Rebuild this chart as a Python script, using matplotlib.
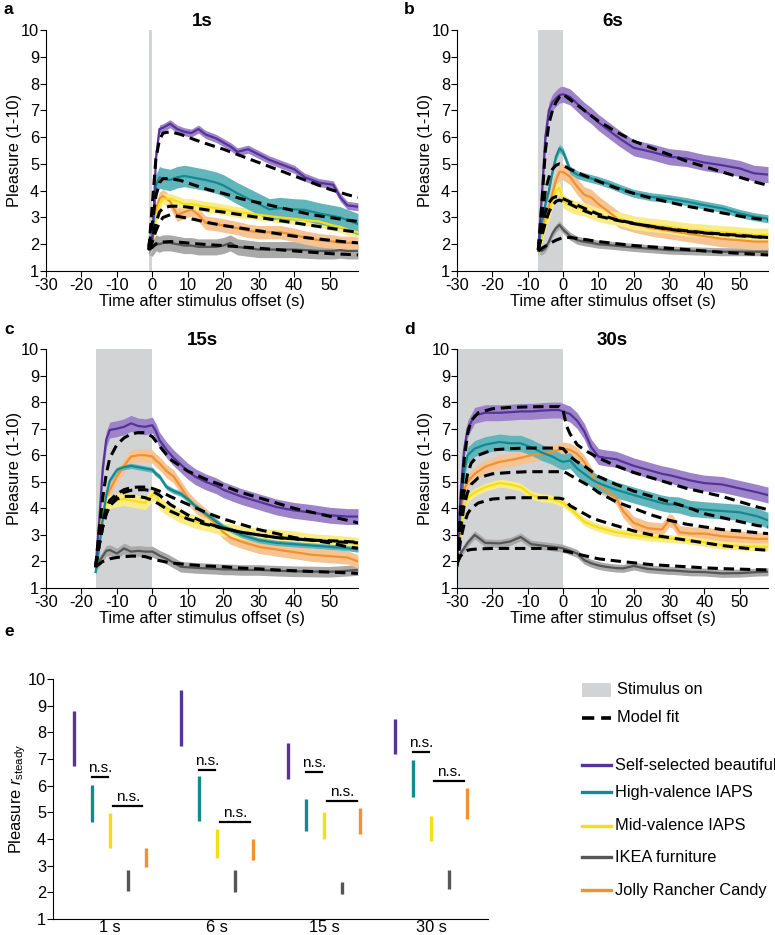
import numpy as np
import matplotlib
matplotlib.use('Agg')
import matplotlib.pyplot as plt
from matplotlib.patches import Rectangle

plt.rcParams['font.family'] = ['Liberation Sans', 'DejaVu Sans']
plt.rcParams['mathtext.fontset'] = 'custom'
plt.rcParams['mathtext.rm'] = 'Liberation Sans'
plt.rcParams['mathtext.it'] = 'Liberation Sans:italic'
plt.rcParams['axes.unicode_minus'] = False

# ---------------- categories / styles ----------------
CATEGORIES = ['Self-selected beautiful', 'High-valence IAPS', 'Mid-valence IAPS',
              'IKEA furniture', 'Jolly Rancher Candy']
LINE_COLORS = ['#563399', '#138a91', '#f5df12', '#555555', '#f0922e']
BAND_COLORS = ['#9d84ca', '#62b5ba', '#f9ec86', '#a9a9a9', '#f6c393']

PANEL_TITLES = ['1s', '6s', '15s', '30s']
PANEL_LETTERS = ['a', 'b', 'c', 'd']
STIM_START = [-1, -7, -16, -30]
X_TICKS = [-30, -20, -10, 0, 10, 20, 30, 40, 50]
Y_TICKS = [1, 2, 3, 4, 5, 6, 7, 8, 9, 10]

# ---------------- panel a (1 s) ----------------
A_T = [-1, 0, 1, 2, 3, 5, 7, 9, 11, 13, 15, 18, 20, 22, 24, 27, 30, 33, 36, 40, 43, 47, 51, 53, 55, 58]
A_PURPLE = [1.8, 2.0, 5.2, 6.3, 6.35, 6.5, 6.3, 6.2, 6.15, 6.3, 6.1, 5.95, 5.8, 5.65, 5.45, 5.55, 5.35, 5.15, 5.0, 4.8, 4.5, 4.3, 4.22, 3.75, 3.45, 3.4]
A_TEAL = [2.0, 2.3, 4.2, 4.5, 4.45, 4.4, 4.5, 4.55, 4.5, 4.45, 4.4, 4.3, 4.2, 4.05, 3.9, 3.7, 3.5, 3.3, 3.35, 3.3, 3.28, 3.15, 3.05, 3.0, 2.9, 2.75]
A_YELLOW = [1.8, 2.0, 3.0, 3.5, 3.7, 3.7, 3.6, 3.5, 3.5, 3.45, 3.4, 3.35, 3.3, 3.25, 3.2, 3.15, 3.1, 3.05, 3.0, 2.95, 2.9, 2.85, 2.7, 2.65, 2.55, 2.45]
A_GRAY = [1.9, 1.85, 2.05, 2.0, 2.05, 2.05, 2.0, 1.95, 1.95, 1.9, 1.9, 1.9, 1.95, 2.05, 1.9, 1.85, 1.8, 1.8, 1.8, 1.8, 1.78, 1.75, 1.75, 1.78, 1.75, 1.75]
A_ORANGE = [1.9, 2.3, 3.3, 3.7, 3.8, 3.6, 3.1, 3.2, 3.3, 3.1, 2.8, 2.75, 2.7, 2.65, 2.6, 2.5, 2.45, 2.45, 2.45, 2.35, 2.25, 2.15, 2.1, 2.05, 2.05, 2.05]
A_SEM = [0.15, 0.4, 0.2, 0.3, 0.25]
A_MT = [-1, 0, 1, 2, 3, 5, 8, 12, 16, 20, 25, 30, 35, 40, 45, 50, 55, 58]
A_FIT_PURPLE = [1.8, 3.5, 5.2, 5.9, 6.15, 6.2, 6.1, 5.9, 5.72, 5.55, 5.3, 5.05, 4.8, 4.55, 4.3, 4.05, 3.85, 3.75]
A_FIT_TEAL = [1.9, 2.8, 3.8, 4.3, 4.45, 4.45, 4.38, 4.2, 4.03, 3.9, 3.7, 3.55, 3.4, 3.25, 3.1, 3.0, 2.9, 2.85]
A_FIT_YELLOW = [1.8, 2.2, 2.8, 3.2, 3.35, 3.42, 3.42, 3.35, 3.27, 3.2, 3.1, 3.0, 2.9, 2.8, 2.7, 2.6, 2.5, 2.45]
A_FIT_GRAY = [1.8, 1.9, 2.0, 2.05, 2.08, 2.1, 2.07, 2.02, 1.98, 1.95, 1.9, 1.85, 1.8, 1.75, 1.7, 1.65, 1.62, 1.6]
A_FIT_ORANGE = [1.8, 2.1, 2.5, 2.8, 3.0, 3.1, 3.02, 2.92, 2.8, 2.7, 2.6, 2.5, 2.4, 2.3, 2.22, 2.15, 2.08, 2.05]

# ---------------- panel b (6 s) ----------------
B_T = [-7, -6, -5, -4, -3, -2, -1, 0, 2, 4, 6, 8, 10, 13, 16, 20, 25, 30, 35, 40, 45, 50, 54, 58]
B_PURPLE = [1.8, 3.8, 6.0, 7.0, 7.3, 7.45, 7.57, 7.6, 7.5, 7.25, 7.0, 6.8, 6.55, 6.25, 5.95, 5.6, 5.45, 5.27, 5.2, 5.05, 4.95, 4.83, 4.65, 4.6]
B_TEAL = [1.75, 2.8, 3.5, 4.0, 4.7, 5.27, 5.58, 5.45, 4.77, 4.6, 4.52, 4.45, 4.38, 4.25, 4.09, 3.9, 3.77, 3.7, 3.59, 3.46, 3.34, 3.15, 3.03, 2.95]
B_YELLOW = [1.8, 2.3, 2.8, 3.15, 3.6, 4.0, 4.1, 3.6, 3.45, 3.35, 3.3, 3.2, 3.1, 3.0, 2.95, 2.8, 2.72, 2.65, 2.55, 2.5, 2.45, 2.4, 2.35, 2.35]
B_GRAY = [1.78, 1.75, 1.85, 2.1, 2.4, 2.6, 2.72, 2.55, 2.3, 2.15, 2.09, 2.05, 2.0, 1.97, 1.93, 1.88, 1.83, 1.78, 1.76, 1.74, 1.72, 1.72, 1.72, 1.72]
B_ORANGE = [1.8, 2.3, 2.9, 3.4, 3.9, 4.4, 4.7, 4.7, 4.52, 4.15, 3.85, 3.75, 3.5, 3.2, 2.9, 2.75, 2.6, 2.5, 2.4, 2.3, 2.2, 2.15, 2.1, 2.1]
B_SEM = [0.3, 0.15, 0.25, 0.15, 0.3]
B_MT = [-7, -6, -5, -4, -3, -2, -1, 0, 2, 5, 10, 15, 20, 25, 30, 35, 40, 45, 50, 55, 58]
B_FIT_PURPLE = [1.8, 3.5, 5.5, 6.5, 7.0, 7.3, 7.5, 7.6, 7.4, 7.1, 6.6, 6.2, 5.85, 5.6, 5.35, 5.1, 4.9, 4.7, 4.5, 4.3, 4.2]
B_FIT_TEAL = [1.8, 3.0, 4.0, 4.5, 4.8, 4.95, 5.0, 4.95, 4.8, 4.62, 4.35, 4.1, 3.9, 3.72, 3.57, 3.42, 3.3, 3.17, 3.05, 2.95, 2.9]
B_FIT_YELLOW = [1.8, 2.3, 2.8, 3.2, 3.45, 3.6, 3.65, 3.6, 3.5, 3.3, 3.05, 2.9, 2.77, 2.67, 2.57, 2.5, 2.43, 2.38, 2.33, 2.28, 2.25]
B_FIT_GRAY = [1.75, 1.85, 1.93, 2.0, 2.08, 2.15, 2.2, 2.25, 2.25, 2.2, 2.1, 2.02, 1.95, 1.9, 1.85, 1.8, 1.75, 1.7, 1.66, 1.62, 1.6]
B_FIT_ORANGE = [1.8, 2.5, 3.2, 3.55, 3.72, 3.78, 3.75, 3.7, 3.58, 3.4, 3.12, 2.92, 2.78, 2.66, 2.56, 2.48, 2.42, 2.36, 2.31, 2.27, 2.25]

# ---------------- panel c (15 s) ----------------
C_T = [-16, -15, -14, -13, -12, -10, -8, -6, -4, -2, 0, 1, 2, 4, 6, 8, 10, 12, 15, 18, 20, 22, 25, 30, 35, 40, 45, 50, 55, 58]
C_PURPLE = [1.8, 3.5, 5.5, 6.6, 6.95, 7.0, 7.07, 7.2, 7.1, 7.07, 7.13, 6.9, 6.57, 6.2, 5.9, 5.65, 5.4, 5.2, 5.0, 4.85, 4.7, 4.6, 4.45, 4.25, 4.05, 3.92, 3.84, 3.74, 3.69, 3.69]
C_TEAL = [1.6, 2.5, 3.6, 4.5, 5.05, 5.45, 5.55, 5.6, 5.55, 5.5, 5.45, 5.3, 5.2, 4.8, 4.65, 4.55, 4.35, 4.1, 3.8, 3.5, 3.3, 3.2, 3.0, 2.8, 2.7, 2.65, 2.6, 2.55, 2.5, 2.45]
C_YELLOW = [1.8, 3.0, 3.9, 4.2, 4.25, 4.3, 4.35, 4.3, 4.25, 4.2, 4.5, 4.55, 4.2, 4.0, 3.85, 3.7, 3.6, 3.5, 3.4, 3.3, 3.2, 3.18, 3.1, 3.0, 2.95, 2.9, 2.8, 2.75, 2.7, 2.65]
C_GRAY = [1.8, 2.0, 2.2, 2.4, 2.43, 2.3, 2.49, 2.37, 2.4, 2.37, 2.37, 2.3, 2.22, 2.1, 1.95, 1.8, 1.78, 1.76, 1.74, 1.72, 1.7, 1.7, 1.68, 1.68, 1.65, 1.63, 1.62, 1.61, 1.65, 1.68]
C_ORANGE = [1.8, 2.8, 3.8, 4.4, 4.7, 5.2, 5.6, 5.95, 6.0, 6.0, 5.95, 5.8, 5.7, 5.4, 5.2, 4.8, 4.4, 4.1, 3.75, 3.4, 3.1, 2.9, 2.75, 2.55, 2.45, 2.35, 2.25, 2.2, 2.15, 2.0]
C_SEM = [0.3, 0.1, 0.25, 0.2, 0.25]
C_MT = [-16, -15, -14, -13, -12, -10, -8, -6, -4, -2, 0, 2, 5, 10, 15, 20, 25, 30, 35, 40, 45, 50, 55, 58]
C_FIT_PURPLE = [1.8, 3.2, 4.4, 5.3, 5.9, 6.4, 6.65, 6.8, 6.85, 6.85, 6.7, 6.35, 5.85, 5.4, 5.1, 4.85, 4.6, 4.4, 4.2, 4.0, 3.85, 3.7, 3.55, 3.45]
C_FIT_TEAL = [1.8, 2.8, 3.5, 4.0, 4.3, 4.55, 4.7, 4.78, 4.8, 4.8, 4.75, 4.65, 4.45, 4.15, 3.85, 3.6, 3.4, 3.2, 3.05, 2.9, 2.8, 2.7, 2.55, 2.5]
C_FIT_YELLOW = [1.8, 2.6, 3.3, 3.8, 4.1, 4.35, 4.45, 4.45, 4.45, 4.4, 4.3, 4.15, 3.9, 3.6, 3.4, 3.25, 3.1, 3.0, 2.9, 2.85, 2.8, 2.78, 2.75, 2.72]
C_FIT_GRAY = [1.8, 1.9, 2.0, 2.05, 2.1, 2.15, 2.18, 2.2, 2.2, 2.18, 2.1, 2.03, 1.95, 1.88, 1.83, 1.8, 1.75, 1.72, 1.68, 1.65, 1.62, 1.6, 1.57, 1.55]
C_FIT_ORANGE = [1.8, 2.6, 3.3, 3.8, 4.1, 4.45, 4.6, 4.68, 4.7, 4.7, 4.65, 4.5, 4.15, 3.75, 3.45, 3.25, 3.1, 3.0, 2.9, 2.85, 2.8, 2.75, 2.72, 2.7]

# ---------------- panel d (30 s) ----------------
D_T = [-30, -29, -28, -27, -25, -22, -18, -15, -12, -9, -6, -3, -1, 0, 2, 4, 6, 8, 10, 12, 15, 17, 20, 24, 28, 30, 31, 33, 36, 40, 45, 50, 55, 58]
D_PURPLE = [1.9, 4.5, 6.2, 7.0, 7.5, 7.6, 7.6, 7.62, 7.65, 7.65, 7.68, 7.7, 7.7, 7.65, 7.55, 7.3, 6.9, 6.3, 5.95, 5.9, 5.85, 5.75, 5.6, 5.45, 5.3, 5.25, 5.22, 5.15, 5.05, 4.95, 4.9, 4.75, 4.6, 4.5]
D_TEAL = [1.9, 4.0, 5.4, 6.0, 6.25, 6.4, 6.5, 6.45, 6.45, 6.3, 6.1, 5.95, 5.8, 5.75, 5.8, 5.5, 5.3, 5.1, 4.95, 4.85, 4.7, 4.62, 4.5, 4.35, 4.2, 4.15, 4.15, 4.12, 4.0, 3.95, 3.9, 3.85, 3.7, 3.55]
D_YELLOW = [1.8, 3.0, 4.0, 4.4, 4.6, 4.8, 4.95, 4.9, 4.8, 4.5, 4.4, 4.35, 4.25, 4.2, 4.0, 3.75, 3.5, 3.38, 3.28, 3.2, 3.1, 3.06, 3.0, 2.93, 2.88, 2.86, 2.85, 2.84, 2.8, 2.72, 2.62, 2.58, 2.55, 2.55]
D_GRAY = [1.99, 2.3, 2.5, 2.7, 3.0, 2.7, 2.68, 2.75, 2.92, 2.65, 2.6, 2.55, 2.52, 2.49, 2.4, 2.3, 2.05, 1.93, 1.85, 1.8, 1.75, 1.74, 1.83, 1.72, 1.68, 1.66, 1.66, 1.64, 1.61, 1.6, 1.55, 1.56, 1.6, 1.61]
D_ORANGE = [2.0, 3.8, 4.7, 5.0, 5.3, 5.57, 5.75, 5.82, 5.9, 6.0, 6.05, 6.13, 6.2, 6.25, 6.2, 6.05, 5.75, 5.3, 4.85, 4.7, 4.4, 3.9, 3.45, 3.25, 3.2, 3.55, 3.5, 3.1, 3.05, 3.05, 2.95, 2.9, 2.85, 2.85]
D_SEM = [0.3, 0.3, 0.15, 0.15, 0.25]
D_MT = [-30, -29, -28, -27, -26, -24, -20, -15, -10, -5, -1, 0, 1, 2, 4, 6, 8, 10, 15, 20, 25, 30, 35, 40, 45, 50, 55, 58]
D_FIT_PURPLE = [1.9, 4.0, 5.8, 6.8, 7.3, 7.6, 7.75, 7.8, 7.82, 7.83, 7.83, 7.7, 7.1, 6.8, 6.4, 6.2, 6.05, 5.9, 5.6, 5.35, 5.15, 4.95, 4.75, 4.6, 4.45, 4.25, 4.05, 3.95]
D_FIT_TEAL = [1.9, 3.5, 4.6, 5.3, 5.7, 6.0, 6.2, 6.25, 6.27, 6.27, 6.27, 6.25, 6.1, 5.95, 5.75, 5.6, 5.4, 5.2, 4.9, 4.65, 4.45, 4.25, 4.05, 3.8, 3.65, 3.5, 3.35, 3.3]
D_FIT_YELLOW = [1.8, 2.8, 3.4, 3.8, 4.0, 4.2, 4.35, 4.4, 4.4, 4.4, 4.38, 4.35, 4.25, 4.1, 3.95, 3.8, 3.65, 3.55, 3.35, 3.15, 3.0, 2.9, 2.8, 2.7, 2.6, 2.52, 2.45, 2.42]
D_FIT_GRAY = [1.93, 2.2, 2.35, 2.42, 2.45, 2.47, 2.49, 2.49, 2.49, 2.49, 2.47, 2.4, 2.38, 2.35, 2.28, 2.22, 2.16, 2.1, 2.02, 1.95, 1.88, 1.84, 1.8, 1.76, 1.73, 1.71, 1.69, 1.68]
D_FIT_ORANGE = [1.9, 3.2, 4.1, 4.6, 4.9, 5.15, 5.3, 5.35, 5.38, 5.38, 5.38, 5.38, 5.33, 5.25, 5.1, 4.95, 4.8, 4.6, 4.25, 4.0, 3.75, 3.55, 3.4, 3.3, 3.2, 3.15, 3.08, 3.05]

# ---------------- panel e (r_steady ranges) ----------------
E_GROUPS = ['1 s', '6 s', '15 s', '30 s']
E_PURPLE_LO = [6.75, 7.50, 6.24, 7.18]
E_PURPLE_HI = [8.80, 9.60, 7.60, 8.50]
E_TEAL_LO = [4.64, 4.66, 4.30, 5.57]
E_TEAL_HI = [6.04, 6.38, 5.51, 6.98]
E_YELLOW_LO = [3.66, 3.29, 3.99, 3.91]
E_YELLOW_HI = [4.99, 4.39, 5.03, 4.87]
E_GRAY_LO = [2.06, 2.00, 1.92, 2.11]
E_GRAY_HI = [2.84, 2.83, 2.38, 2.84]
E_ORANGE_LO = [2.96, 3.22, 4.20, 4.74]
E_ORANGE_HI = [3.68, 4.01, 5.18, 5.93]
E_NS1_LEVEL = [6.32, 6.57, 6.50, 7.25]
E_NS2_LEVEL = [5.22, 4.62, 5.41, 6.16]

# ---------------- figure ----------------
W, H = 775, 935
fig = plt.figure(figsize=(W / 100, H / 100), dpi=100)

overlay = fig.add_axes([0, 0, 1, 1])
overlay.set_xlim(0, W)
overlay.set_ylim(H, 0)
overlay.axis('off')


def px_axes(l, t, r, b):
    return fig.add_axes([l / W, 1 - b / H, (r - l) / W, (b - t) / H])


FS = 11.8
panels = [
    (A_T, [A_PURPLE, A_TEAL, A_YELLOW, A_GRAY, A_ORANGE], A_SEM,
     A_MT, [A_FIT_PURPLE, A_FIT_TEAL, A_FIT_YELLOW, A_FIT_GRAY, A_FIT_ORANGE]),
    (B_T, [B_PURPLE, B_TEAL, B_YELLOW, B_GRAY, B_ORANGE], B_SEM,
     B_MT, [B_FIT_PURPLE, B_FIT_TEAL, B_FIT_YELLOW, B_FIT_GRAY, B_FIT_ORANGE]),
    (C_T, [C_PURPLE, C_TEAL, C_YELLOW, C_GRAY, C_ORANGE], C_SEM,
     C_MT, [C_FIT_PURPLE, C_FIT_TEAL, C_FIT_YELLOW, C_FIT_GRAY, C_FIT_ORANGE]),
    (D_T, [D_PURPLE, D_TEAL, D_YELLOW, D_GRAY, D_ORANGE], D_SEM,
     D_MT, [D_FIT_PURPLE, D_FIT_TEAL, D_FIT_YELLOW, D_FIT_GRAY, D_FIT_ORANGE]),
]
boxes = [(46, 30, 358, 271), (457, 30, 768, 271), (46, 349, 358, 588), (457, 349, 768, 588)]
letter_pos = [(4, 9), (404, 9), (4, 329), (404, 329)]

draw_order = [3, 4, 2, 1, 0]
for i, (t, series, sem, mt, fits) in enumerate(panels):
    ax = px_axes(*boxes[i])
    ax.axvspan(STIM_START[i], 0, color='#d1d3d4', lw=0, zorder=0)
    t = np.array(t, float)
    for k in draw_order:
        v = np.array(series[k], float)
        ax.fill_between(t, v - sem[k], v + sem[k], color=BAND_COLORS[k], lw=0, zorder=1)
    for k in draw_order:
        ax.plot(t, series[k], color=LINE_COLORS[k], lw=1.6, zorder=2, solid_joinstyle='round')
    for k in draw_order:
        ax.plot(mt, fits[k], color='black', lw=2.2, dashes=(3.4, 1.9), zorder=3)
    ax.set_xlim(-30, 58)
    ax.set_ylim(1, 10)
    ax.set_xticks(X_TICKS)
    ax.set_yticks(Y_TICKS)
    ax.tick_params(labelsize=FS, length=4, width=0.8, pad=1)
    for s in ['top', 'right']:
        ax.spines[s].set_visible(False)
    ax.set_xlabel('Time after stimulus offset (s)', fontsize=FS, labelpad=1)
    ax.set_ylabel('Pleasure (1-10)', fontsize=FS, labelpad=-1)
    ax.set_title(PANEL_TITLES[i], fontsize=13.5, fontweight='bold', pad=3)
    overlay.text(*letter_pos[i], PANEL_LETTERS[i], fontsize=12.5, fontweight='bold', va='center', ha='left')

# ---------------- panel e ----------------
axe = px_axes(53, 679, 488, 919)
groups = np.arange(1, len(E_GROUPS) + 1)
offs = np.array([-2, -1, 0, 1, 2]) * 0.167
lows = [E_PURPLE_LO, E_TEAL_LO, E_YELLOW_LO, E_GRAY_LO, E_ORANGE_LO]
highs = [E_PURPLE_HI, E_TEAL_HI, E_YELLOW_HI, E_GRAY_HI, E_ORANGE_HI]
for k in range(5):
    axe.vlines(groups + offs[k], lows[k], highs[k], color=LINE_COLORS[k], lw=2.4)
for g in range(len(E_GROUPS)):
    x0 = groups[g]
    a1, b1 = x0 + offs[1], x0 + offs[2] - 0.02
    axe.plot([a1, b1], [E_NS1_LEVEL[g]] * 2, color='black', lw=1.6)
    axe.text((a1 + b1) / 2, E_NS1_LEVEL[g] + 0.08, 'n.s.', ha='center', va='bottom', fontsize=11)
    a2, b2 = x0 + offs[2] + 0.03, x0 + offs[4] - 0.03
    axe.plot([a2, b2], [E_NS2_LEVEL[g]] * 2, color='black', lw=1.6)
    axe.text((a2 + b2) / 2, E_NS2_LEVEL[g] + 0.08, 'n.s.', ha='center', va='bottom', fontsize=11)
axe.set_xlim(0.47, 4.53)
axe.set_ylim(1, 10)
axe.set_xticks(groups)
axe.set_xticklabels(E_GROUPS)
axe.set_yticks(Y_TICKS)
axe.tick_params(labelsize=FS, length=4, width=0.8, pad=1)
axe.tick_params(axis='x', length=0)
for s in ['top', 'right']:
    axe.spines[s].set_visible(False)
axe.set_ylabel(r'Pleasure $r_{\mathrm{steady}}$', fontsize=FS, labelpad=0)
overlay.text(4, 632, 'e', fontsize=12.5, fontweight='bold', va='center', ha='left')

# legend for e
overlay.add_patch(Rectangle((582, 683), 29, 14, color='#d1d3d4', lw=0))
overlay.text(617, 690, 'Stimulus on', fontsize=FS, va='center', ha='left')
overlay.plot([582, 611], [718, 718], color='black', lw=2.6, dashes=(3.4, 1.9))
overlay.text(617, 718, 'Model fit', fontsize=FS, va='center', ha='left')
leg_y = [765, 792, 826, 857, 890]
for k in range(5):
    overlay.plot([582, 611], [leg_y[k], leg_y[k]], color=LINE_COLORS[k], lw=2.4)
    overlay.text(615, leg_y[k], CATEGORIES[k], fontsize=FS, va='center', ha='left')

fig.savefig('out.png', dpi=100)
